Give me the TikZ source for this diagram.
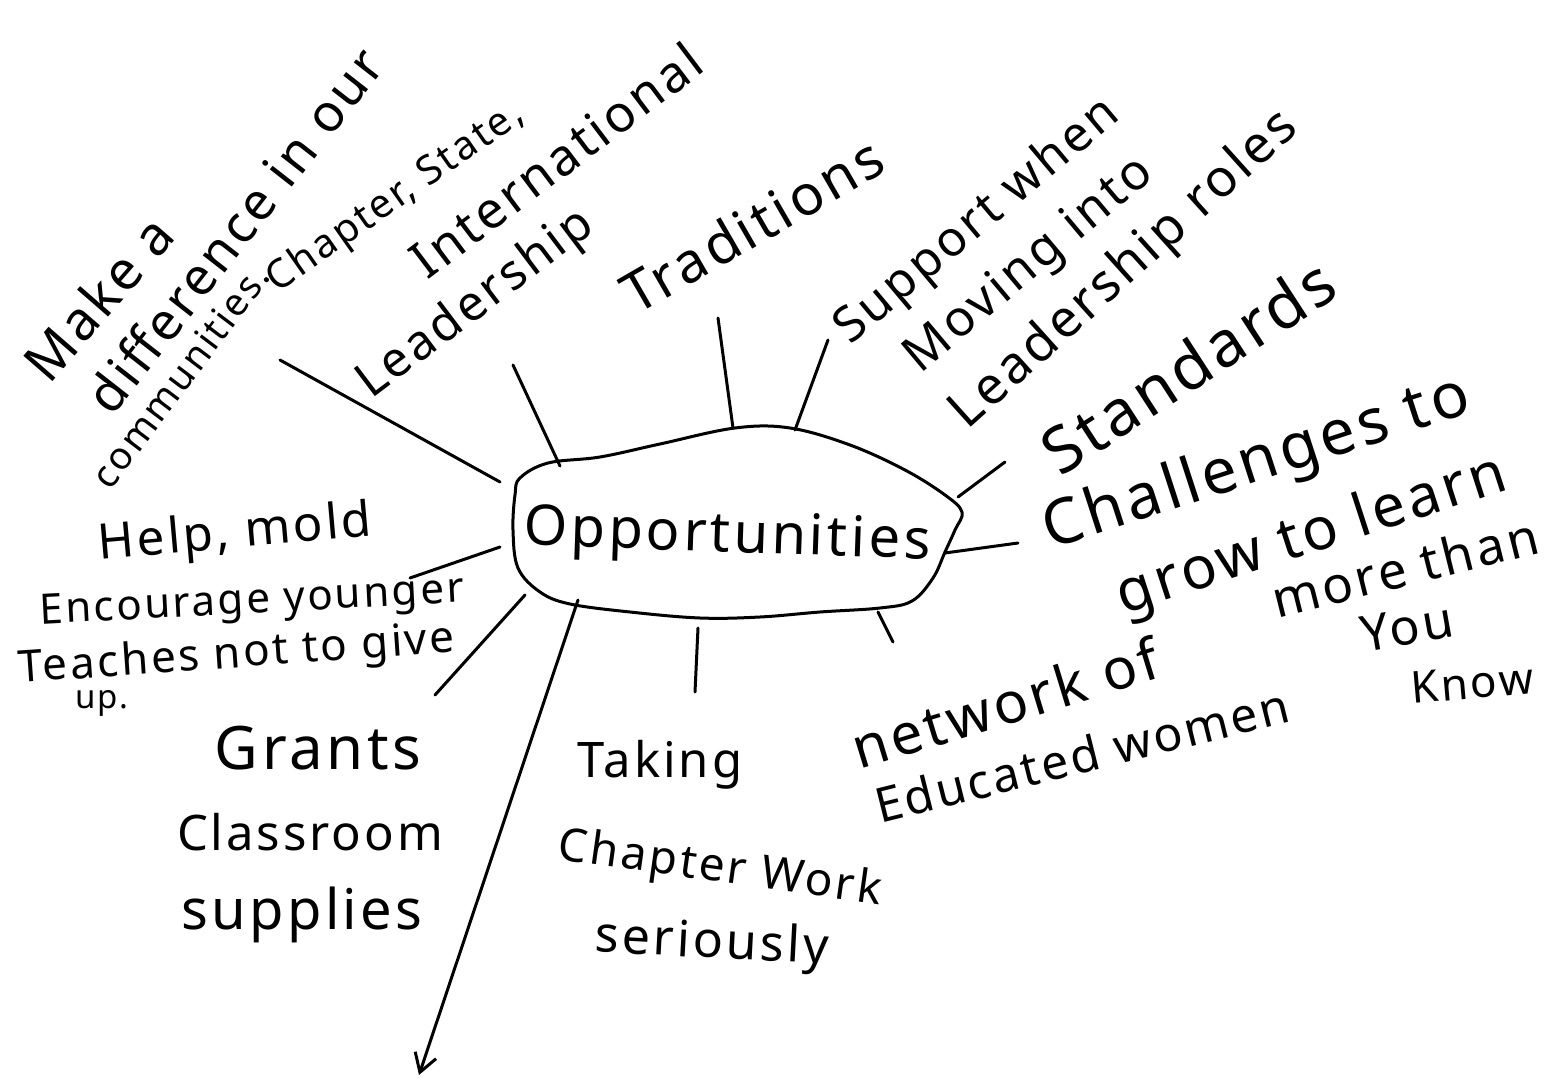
\documentclass[tikz,border=0pt]{standalone}
\usepackage{fontspec}
\setmainfont{Noto Sans}[LetterSpace=6]
\usetikzlibrary{arrows.meta}
\begin{document}
\begin{tikzpicture}[x=1pt,y=-1pt,line width=3pt,line cap=round,line join=round,
  fs/.style={inner sep=0pt,font=\fontsize{#1}{#1}\selectfont},
  link/.style={draw=black,line width=3pt}]
\useasboundingbox[fill=white] (0,0) rectangle (1551,1078);
% central blob
\draw[line width=3pt,tension=0.6] plot[smooth cycle] coordinates {
 (520,478) (548,463) (600,457) (660,444) (735,428) (790,428) (850,445) (905,470)
 (945,495) (962,512) (955,530) (945,552) (933,578) (912,601) (880,608) (820,612)
 (760,617) (700,618) (630,612) (570,604) (540,592) (518,568) (513,530) (515,495)};
\node[fs=56,rotate=-2] (opp) at (727,538) {Opportunities};
% connector ends on the blob
\coordinate (o1) at (500,482);
\coordinate (o2) at (560,466);
\coordinate (o3) at (733,428);
\coordinate (o4) at (795,430);
\coordinate (o5) at (958,497);
\coordinate (o6) at (945,553);
\coordinate (o7) at (878,612);
\coordinate (o8) at (698,628);
\coordinate (o9) at (578,600);
\coordinate (o10) at (525,595);
\coordinate (o11) at (500,547);
% free ends
\coordinate (e1) at (280,360);
\coordinate (e2) at (513,365);
\coordinate (e3) at (718,318);
\coordinate (e4) at (828,340);
\coordinate (e5) at (1005,462);
\coordinate (e6) at (1018,543);
\coordinate (e7) at (893,642);
\coordinate (e8) at (695,692);
\coordinate (e9) at (419,1075);
\coordinate (e10) at (435,695);
\coordinate (e11) at (410,578);
\draw[link] (o1) -- (e1);
\draw[link] (o2) -- (e2);
\draw[link] (o3) -- (e3);
\draw[link] (o4) -- (e4);
\draw[link] (o5) -- (e5);
\draw[link] (o6) -- (e6);
\draw[link] (o7) -- (e7);
\draw[link] (o8) -- (e8);
\draw[link,-{Straight Barb[length=18pt,width=22pt]}] (o9) -- (e9);
\draw[link] (o10) -- (e10);
\draw[link] (o11) -- (e11);
% labels
\node[fs=54,rotate=49] (makea) at (98,298) {Make a};
\node[fs=52,rotate=52] (diff) at (234,230) {difference in our};
\node[fs=38,rotate=53] (comm) at (180,376) {communities.};
\node[fs=40,rotate=35] (chap) at (396,198) {Chapter, State,};
\node[fs=51,rotate=37] (intl) at (556,160) {International};
\node[fs=49,rotate=37] (lead1) at (476,305) {Leadership};
\node[fs=56,rotate=30] (trad) at (752,225) {Traditions};
\node[fs=49,rotate=40] (supp) at (978,222) {Support when};
\node[fs=50,rotate=40] (mov) at (1030,266) {Moving into};
\node[fs=52,rotate=42] (lead2) at (1125,271) {Leadership roles};
\node[fs=64,rotate=33] (stan) at (1188,366) {Standards};
\node[fs=63,rotate=18] (chal) at (1257,465) {Challenges to};
\node[fs=59,rotate=18] (grow) at (1312,537) {grow to learn};
\node[fs=51,rotate=14] (more) at (1405,567) {more than};
\node[fs=50,rotate=10] (you) at (1407,627) {You};
\node[fs=44,rotate=5] (know) at (1472,683) {Know};
\node[fs=57,rotate=17] (netw) at (1005,703) {network of};
\node[fs=48,rotate=14] (educ) at (1082,755) {Educated women};
\node[fs=49] (tak) at (660,765) {Taking};
\node[fs=46,rotate=-8] (cw) at (720,870) {Chapter Work};
\node[fs=50,rotate=-3] (ser) at (712,945) {seriously};
\node[fs=60] (grants) at (318,748) {Grants};
\node[fs=49] (class) at (310,832) {Classroom};
\node[fs=56] (supl) at (302,915) {supplies};
\node[fs=49,rotate=5] (help) at (235,535) {Help, mold};
\node[fs=42,rotate=3] (enc) at (252,603) {Encourage younger};
\node[fs=44,rotate=4] (teach) at (237,656) {Teaches not to give};
\node[fs=33] (up) at (102,703) {up.};
\end{tikzpicture}
\end{document}
